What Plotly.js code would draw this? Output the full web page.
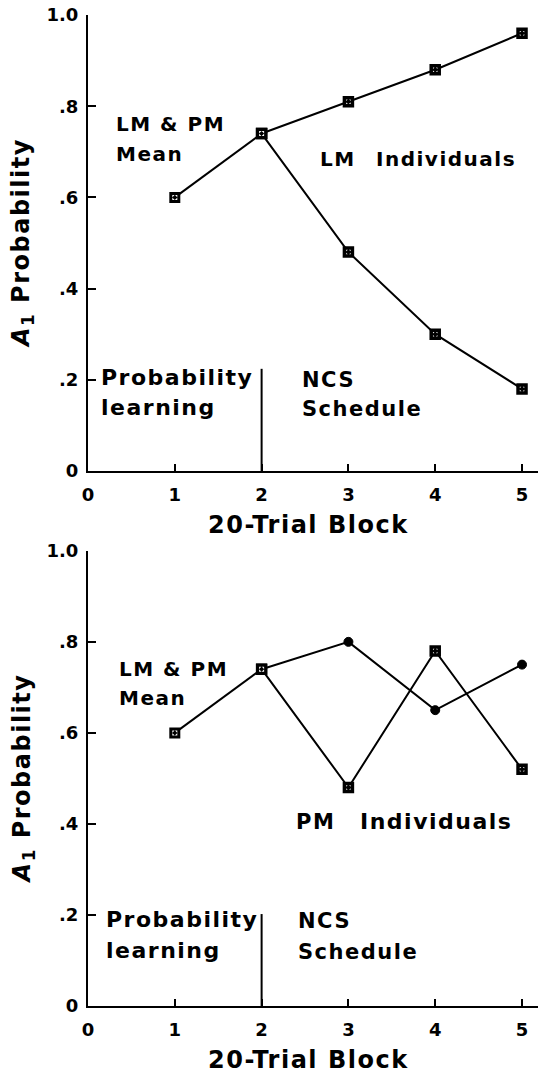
<!DOCTYPE html>
<html>
<head>
<meta charset="utf-8">
<script src="https://cdn.plot.ly/plotly-3.0.1.min.js"></script>
<style>
  html, body { margin: 0; padding: 0; background: #fff; }
  #chart { width: 538px; height: 1075px; }
  .annotation-text { letter-spacing: 1.5px; }
</style>
</head>
<body>
<div id="chart"></div>
<script>
// ---- Data ----
const blocks = [1, 2, 3, 4, 5];
const xTickVals = [0, 1, 2, 3, 4, 5];
const xTickText = ["0", "1", "2", "3", "4", "5"];
const yTickVals = [0, 0.2, 0.4, 0.6, 0.8, 1.0];
const yTickText = ["0", ".2", ".4", ".6", ".8", "1.0"];

// Probability learning phase (blocks 1-2): LM & PM mean
const meanBlocks = [1, 2];
const meanTop = [0.60, 0.74];
const meanBottom = [0.60, 0.74];

// NCS schedule phase (blocks 2-5)
const ncsBlocks = [2, 3, 4, 5];
const lmIndivA = [0.74, 0.81, 0.88, 0.96];
const lmIndivB = [0.74, 0.48, 0.30, 0.18];
const pmIndivCircle = [0.74, 0.80, 0.65, 0.75];
const pmIndivSquare = [0.74, 0.48, 0.78, 0.52];

// Phase divider at block 2
const dividerX = [2, 2];
const dividerTop = [0, 0.224];
const dividerBottom = [0, 0.202];

// ---- Styling ----
const FONT = "DejaVu Sans, Liberation Sans, Arial, sans-serif";
const black = "#000";

function lineTrace(x, y, xa, ya, size, lw) {
  return {
    x: x, y: y, xaxis: xa, yaxis: ya, type: "scatter",
    mode: "lines+markers",
    line: { color: black, width: 2 },
    marker: { symbol: "square-dot", size: size, color: "#fff", line: { color: black, width: lw } },
    hoverinfo: "skip", cliponaxis: false
  };
}
function circleTrace(x, y, xa, ya) {
  return {
    x: x, y: y, xaxis: xa, yaxis: ya, type: "scatter",
    mode: "lines+markers",
    line: { color: black, width: 2 },
    marker: { symbol: ["square-dot", "circle", "circle", "circle"], size: [8, 9, 9, 9],
              color: ["#fff", black, black, black], opacity: 1,
              line: { color: black, width: [3, 1, 1, 1] } },
    hoverinfo: "skip", cliponaxis: false
  };
}
function dividerTrace(y, xa, ya) {
  return { x: dividerX, y: y, xaxis: xa, yaxis: ya, type: "scatter", mode: "lines",
           line: { color: black, width: 2 }, hoverinfo: "skip" };
}

const traces = [
  dividerTrace(dividerTop, "x", "y"),
  lineTrace(ncsBlocks, lmIndivA, "x", "y", 8, 3.5),
  lineTrace(ncsBlocks, lmIndivB, "x", "y", 8, 3.5),
  lineTrace(meanBlocks, meanTop, "x", "y", 8, 3),

  dividerTrace(dividerBottom, "x2", "y2"),
  circleTrace(ncsBlocks, pmIndivCircle, "x2", "y2"),
  lineTrace(ncsBlocks, pmIndivSquare, "x2", "y2", 8, 3.5),
  lineTrace(meanBlocks, meanBottom, "x2", "y2", 8, 3)
];

function xAxis(anchor) {
  return {
    anchor: anchor, domain: [0, 1], range: [0, 5.184],
    showline: true, linecolor: black, linewidth: 2,
    ticks: "inside", ticklen: 7, tickwidth: 2, tickcolor: black,
    tickvals: xTickVals, ticktext: xTickText,
    tickfont: { family: FONT, size: 18, color: black, weight: "bold" },
    ticklabelstandoff: 6,
    showgrid: false, zeroline: false, fixedrange: true
  };
}
function yAxis(anchor, domain) {
  return {
    anchor: anchor, domain: domain, range: [0, 1],
    showline: true, linecolor: black, linewidth: 2,
    ticks: "inside", ticklen: 8, tickwidth: 2, tickcolor: black,
    tickvals: yTickVals, ticktext: yTickText,
    tickfont: { family: FONT, size: 18, color: black, weight: "bold" },
    ticklabelstandoff: 4,
    showgrid: false, zeroline: false, fixedrange: true
  };
}

function label(text, x, y, xref, yref, size) {
  return { text: text, x: x, y: y, xref: xref, yref: yref,
           xanchor: "left", yanchor: "middle", showarrow: false, align: "left",
           font: { family: FONT, size: size, color: black, weight: "bold" } };
}

const annotations = [
  // top panel
  label("LM &amp; PM", 0.30, 0.762, "x", "y", 20),
  label("Mean", 0.30, 0.696, "x", "y", 20),
  label("LM", 2.65, 0.684, "x", "y", 20),
  label("Individuals", 3.30, 0.684, "x", "y", 20),
  label("Probability", 0.127, 0.205, "x", "y", 22),
  label("learning", 0.127, 0.139, "x", "y", 22),
  label("NCS", 2.44, 0.200, "x", "y", 21),
  label("Schedule", 2.44, 0.135, "x", "y", 21),
  // bottom panel
  label("LM &amp; PM", 0.335, 0.741, "x2", "y2", 20),
  label("Mean", 0.335, 0.676, "x2", "y2", 20),
  label("PM", 2.37, 0.405, "x2", "y2", 21),
  label("Individuals", 3.11, 0.405, "x2", "y2", 22),
  label("Probability", 0.185, 0.189, "x2", "y2", 22),
  label("learning", 0.185, 0.122, "x2", "y2", 22),
  label("NCS", 2.40, 0.186, "x2", "y2", 21),
  label("Schedule", 2.40, 0.119, "x2", "y2", 21)
];

// Axis titles
["y", "y2"].forEach(function (ya) {
  annotations.push({
    text: "<i>A</i><sub>1</sub> Probability", textangle: -90,
    xref: "paper", x: -0.1444, yref: ya + " domain", y: 0.5,
    xanchor: "center", yanchor: "middle", showarrow: false,
    font: { family: FONT, size: 24, color: black, weight: "bold" }
  });
});
[["x", "y"], ["x2", "y2"]].forEach(function (p) {
  annotations.push({
    text: "20-Trial Block",
    xref: p[0], x: 2.535, yref: p[1] + " domain", y: 0,
    xanchor: "center", yanchor: "middle", yshift: -54, showarrow: false,
    font: { family: FONT, size: 24, color: black, weight: "bold" }
  });
});

const layout = {
  width: 538, height: 1075,
  margin: { l: 88, r: 0, t: 15, b: 69, pad: 0 },
  paper_bgcolor: "#fff", plot_bgcolor: "#fff",
  showlegend: false,
  xaxis: xAxis("y"),
  yaxis: yAxis("x", [0.5399, 1]),
  xaxis2: xAxis("y2"),
  yaxis2: yAxis("x2", [0, 0.4593]),
  annotations: annotations
};

Plotly.newPlot("chart", traces, layout, { displayModeBar: false, staticPlot: true });
</script>
</body>
</html>
